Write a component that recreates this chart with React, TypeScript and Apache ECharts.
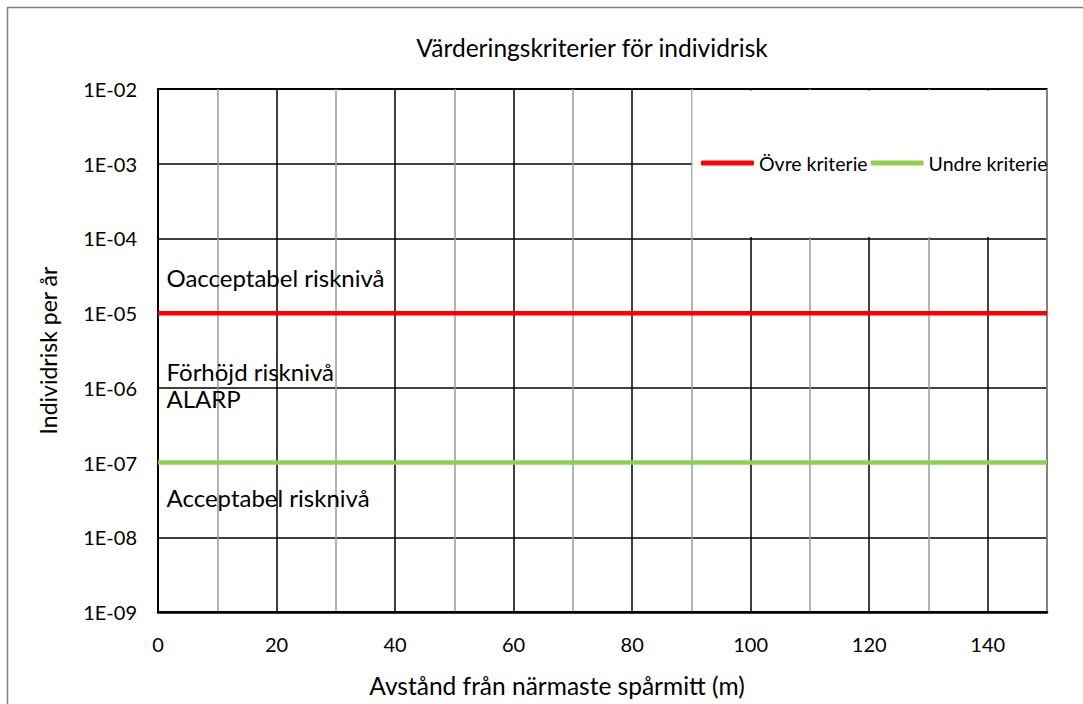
import React, { useEffect, useRef } from 'react';
import * as echarts from 'echarts';

const xValues = [0, 150];
const seriesNames = ['Övre kriterie', 'Undre kriterie'];
const upperCriterion = [1e-5, 1e-5];
const lowerCriterion = [1e-7, 1e-7];
const annotationTexts = ['Oacceptabel risknivå', 'Förhöjd risknivå', 'ALARP', 'Acceptabel risknivå'];
const annotationValues = [3e-5, 1.68e-6, 7.3e-7, 3.45e-8];
const titleText = 'Värderingskriterier för individrisk';
const xAxisName = 'Avstånd från närmaste spårmitt (m)';
const yAxisName = 'Individrisk per år';

const FONT = 'Lato, "Open Sans", sans-serif';

function fmtExp(v: number): string {
  const e = Math.round(Math.log10(v));
  return '1E' + (e < 0 ? '-' : '+') + String(Math.abs(e)).padStart(2, '0');
}

export default function App() {
  const ref = useRef<HTMLDivElement>(null);
  useEffect(() => {
    if (!ref.current) return;
    const chart = echarts.init(ref.current, undefined, { renderer: 'svg' });
    chart.setOption({
      animation: false,
      backgroundColor: '#fff',
      textStyle: { fontFamily: FONT },
      grid: {
        left: 158, right: 36, top: 89, bottom: 92,
        show: true, borderColor: '#000', borderWidth: 1.5, backgroundColor: 'transparent'
      },
      legend: {
        data: seriesNames,
        left: 696, top: 148,
        icon: 'roundRect',
        itemWidth: 53, itemHeight: 5, itemGap: 3,
        textStyle: { fontFamily: FONT, fontSize: 19.5, color: '#000' }
      },
      graphic: [
        { type: 'rect', z: 3, shape: { x: 692.5, y: 90.5, width: 353.5, height: 146.5 }, style: { fill: '#fff' }, silent: true },
        { type: 'rect', z: 0, shape: { x: 7.5, y: 7.5, width: 1200, height: 900 }, style: { fill: 'none', stroke: '#7f7f7f', lineWidth: 1.5 }, silent: true },
        { type: 'text', z: 5, x: 592, y: 47, style: { text: titleText, fontFamily: FONT, fontSize: 24.5, fill: '#000', align: 'center', verticalAlign: 'middle' } },
        { type: 'text', z: 5, x: 557, y: 685, style: { text: xAxisName, fontFamily: FONT, fontSize: 24.5, fill: '#000', align: 'center', verticalAlign: 'middle' } }
      ],
      xAxis: {
        type: 'value', min: 0, max: 150, interval: 10,
        axisLine: { show: true, lineStyle: { color: '#000', width: 2.5 } },
        axisTick: { show: false },
        axisLabel: {
          margin: 22, fontSize: 20, color: '#000', fontFamily: FONT,
          formatter: (v: number) => (v % 20 === 0 ? String(v) : '')
        },
        splitLine: { show: true, lineStyle: { color: ['#000', '#9a9a9a'], width: 1.5 } }
      },
      yAxis: {
        type: 'log', logBase: 10, min: 1e-9, max: 1e-2,
        name: yAxisName, nameLocation: 'middle', nameGap: 99,
        nameTextStyle: { fontSize: 23, color: '#000', fontFamily: FONT },
        axisLine: { show: true, lineStyle: { color: '#000', width: 2 } },
        axisTick: { show: false },
        axisLabel: { margin: 21, fontSize: 20, color: '#000', fontFamily: FONT, formatter: fmtExp },
        splitLine: { show: true, lineStyle: { color: '#000', width: 1.5 } }
      },
      series: [
        {
          name: seriesNames[0], type: 'line', symbol: 'none', z: 2,
          data: xValues.map((x, i) => [x, upperCriterion[i]]),
          lineStyle: { color: '#ff0000', width: 4.5 }, itemStyle: { color: '#ff0000' }
        },
        {
          name: seriesNames[1], type: 'line', symbol: 'none', z: 2,
          data: xValues.map((x, i) => [x, lowerCriterion[i]]),
          lineStyle: { color: '#92d050', width: 4.5 }, itemStyle: { color: '#92d050' }
        },
        {
          name: 'annotations', type: 'scatter', symbolSize: 1, z: 5,
          itemStyle: { color: 'rgba(0,0,0,0)' },
          emphasis: { disabled: true },
          data: annotationValues.map((v, i) => ({ value: [0, v], name: annotationTexts[i] })),
          label: {
            show: true, position: 'right', distance: 8, formatter: '{b}',
            fontSize: 24, color: '#000', opacity: 1, textBorderWidth: 0, fontFamily: FONT
          }
        }
      ]
    });
    return () => chart.dispose();
  }, []);
  return <div ref={ref} style={{ position: 'fixed', left: 0, top: 0, width: 1083, height: 704 }} />;
}
